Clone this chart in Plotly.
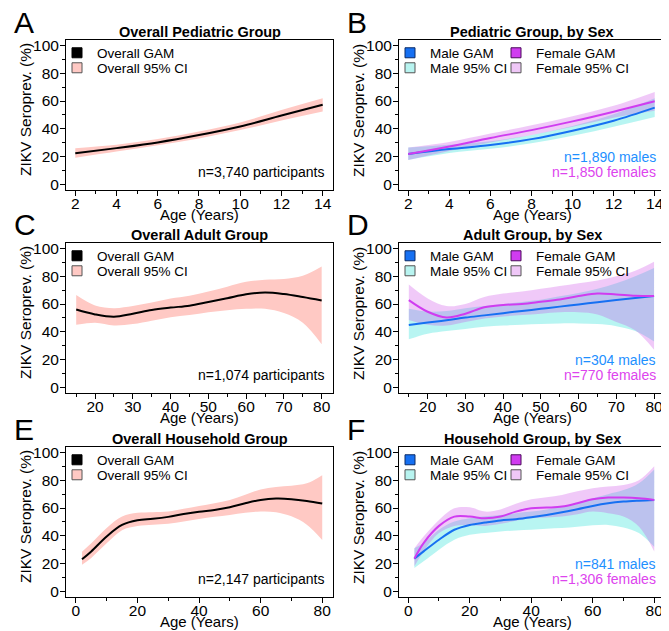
import plotly.graph_objects as go

PAGE_W, PAGE_H = 669, 631
BODY = 8  # default page margin of the HTML body; figure coordinates = page coordinates - BODY
W, H = PAGE_W - BODY, PAGE_H - BODY
FONT = "Liberation Sans, Arial, Helvetica, sans-serif"

# ---------------- data ----------------
# Panel A / B : pediatric group
ped_age = [2, 4, 6, 8, 10, 12, 14]
ped_gam = [22.3, 26.0, 30.1, 35.4, 41.6, 49.5, 57.3]
ped_lo = [19.0, 23.5, 28.0, 33.0, 39.0, 46.0, 52.5]
ped_hi = [26.0, 28.5, 32.5, 38.0, 44.5, 53.5, 62.0]

ped_m_gam = [21.8, 25.3, 28.2, 32.5, 38.6, 45.8, 55.2]
ped_m_lo = [17.5, 22.5, 25.5, 29.5, 35.0, 41.5, 48.5]
ped_m_hi = [26.5, 28.5, 31.0, 35.5, 42.0, 50.5, 62.0]
ped_f_gam = [21.7, 27.2, 33.3, 39.0, 45.3, 52.3, 59.8]
ped_f_lo = [17.5, 24.0, 30.0, 35.5, 41.5, 48.0, 53.0]
ped_f_hi = [26.5, 30.5, 36.5, 42.5, 49.0, 56.5, 66.5]

# Panel C / D : adult group
adult_age = [15, 20, 25, 30, 35, 40, 45, 50, 55, 60, 65, 70, 75, 80]
adult_gam = [56.0, 52.5, 50.8, 53.0, 55.7, 57.4, 58.8, 61.5, 64.2, 67.0, 68.3, 67.2, 65.0, 62.5]
adult_lo = [45.0, 46.5, 44.5, 45.5, 48.0, 50.5, 52.0, 54.0, 55.5, 56.5, 56.5, 53.5, 46.5, 31.0]
adult_hi = [66.5, 59.0, 57.0, 58.5, 61.0, 64.0, 66.0, 69.0, 72.5, 76.0, 77.5, 78.0, 80.3, 87.0]

adult_m_gam = [44.8, 46.6, 48.3, 50.2, 51.8, 53.4, 55.0, 56.5, 58.1, 59.7, 61.3, 62.9, 64.3, 65.7]
adult_m_lo = [34.5, 38.5, 40.5, 42.0, 43.5, 44.5, 45.0, 45.5, 46.0, 46.0, 45.5, 44.0, 40.5, 33.0]
adult_m_hi = [56.5, 54.5, 55.0, 57.0, 58.5, 60.0, 61.5, 63.0, 65.5, 68.0, 71.0, 75.0, 80.0, 86.0]
adult_f_gam = [62.8, 54.4, 50.3, 53.0, 57.6, 59.3, 60.0, 61.6, 63.3, 65.7, 67.6, 66.9, 65.9, 65.7]
adult_f_lo = [48.5, 45.0, 44.5, 47.0, 49.5, 51.0, 52.0, 53.0, 54.0, 54.0, 52.5, 47.0, 41.0, 27.0]
adult_f_hi = [74.0, 64.0, 58.5, 60.0, 65.0, 67.5, 69.0, 71.0, 73.0, 75.0, 77.0, 80.0, 84.0, 90.5]

# Panel E / F : household group
hh_age = [2, 5, 10, 15, 20, 25, 30, 35, 40, 45, 50, 55, 60, 65, 70, 75, 80]
hh_gam = [23.0, 28.7, 39.5, 47.8, 51.2, 52.2, 53.6, 55.6, 57.3, 58.6, 60.5, 63.4, 65.8, 66.8, 66.4, 65.1, 63.2]
hh_lo = [19.0, 24.0, 34.5, 44.0, 47.0, 48.0, 48.6, 50.2, 52.0, 53.6, 55.0, 56.5, 57.5, 57.0, 54.0, 48.0, 37.0]
hh_hi = [28.5, 34.5, 45.5, 53.8, 56.5, 57.0, 57.5, 59.5, 61.5, 63.5, 65.8, 69.5, 73.4, 75.2, 76.1, 77.8, 83.7]

hh_m_gam = [23.5, 28.7, 37.1, 44.3, 47.8, 49.5, 51.0, 51.9, 53.3, 55.0, 56.9, 59.1, 61.5, 63.4, 64.6, 65.3, 65.8]
hh_m_lo = [16.7, 21.5, 29.9, 37.1, 40.7, 42.0, 43.1, 43.8, 44.3, 45.0, 45.5, 46.5, 47.5, 47.8, 46.0, 42.0, 32.0]
hh_m_hi = [31.0, 34.7, 44.3, 50.2, 52.6, 54.0, 55.0, 56.2, 57.4, 59.0, 61.0, 63.8, 67.0, 70.0, 72.9, 77.8, 87.8]
hh_f_gam = [23.5, 34.7, 47.1, 53.8, 53.8, 52.6, 53.8, 57.4, 59.8, 60.3, 61.0, 63.4, 66.3, 67.5, 67.5, 67.0, 65.8]
hh_f_lo = [17.9, 28.7, 41.9, 47.1, 47.8, 47.1, 48.6, 50.8, 52.6, 53.2, 53.8, 55.5, 57.4, 56.2, 53.8, 46.6, 28.7]
hh_f_hi = [31.0, 39.5, 51.4, 59.8, 60.5, 57.4, 59.0, 63.0, 66.3, 67.8, 69.4, 72.0, 74.2, 75.5, 76.6, 80.1, 90.2]

panel_letters = ["A", "B", "C", "D", "E", "F"]
panel_titles = ["Overall Pediatric Group", "Pediatric Group, by Sex",
                "Overall Adult Group", "Adult Group, by Sex",
                "Overall Household Group", "Household Group, by Sex"]
x_title = "Age (Years)"
y_title = "ZIKV Seroprev. (%)"
n_overall = ["n=3,740 participants", "n=1,074 participants", "n=2,147 participants"]
n_males = ["n=1,890 males", "n=304 males", "n=841 males"]
n_females = ["n=1,850 females", "n=770 females", "n=1,306 females"]

# ---------------- styles ----------------
OV_LINE = "#000000"
OV_CI = "#FFC9C4"
M_LINE = "#1670F2"
F_LINE = "#D03CF0"
M_CI = "rgba(0,220,210,0.28)"
F_CI = "rgba(200,60,230,0.28)"
M_TXT = "#1E90FF"
F_TXT = "#DD44EE"
M_CI_KEY = "#B8F4F0"
F_CI_KEY = "#EFC7F7"

# plot boxes in page pixels
COLS = [(66, 333), (399, 665)]
ROWS = [(40, 190), (243, 393), (447, 597)]
XRANGES = [[1.55, 14.5], [1.55, 14.5], [12.3, 83.0], [12.4, 82.9], [-3.2, 83.5], [-3.0, 83.5]]
XTICK = [(2, 2, 1), (2, 2, 1), (20, 10, 5), (20, 10, 5), (0, 20, 10), (0, 20, 10)]
YRANGE = [-4.2, 104]


def fx(px):
    return (px - BODY) / W


def fy(py):
    return 1 - (py - BODY) / H


groups = [
    (ped_age, (ped_gam, ped_lo, ped_hi), (ped_m_gam, ped_m_lo, ped_m_hi), (ped_f_gam, ped_f_lo, ped_f_hi)),
    (adult_age, (adult_gam, adult_lo, adult_hi), (adult_m_gam, adult_m_lo, adult_m_hi), (adult_f_gam, adult_f_lo, adult_f_hi)),
    (hh_age, (hh_gam, hh_lo, hh_hi), (hh_m_gam, hh_m_lo, hh_m_hi), (hh_f_gam, hh_f_lo, hh_f_hi)),
]

fig = go.Figure()
layout = dict(
    width=W, height=H, margin=dict(l=0, r=0, t=0, b=0, autoexpand=False),
    plot_bgcolor="white", paper_bgcolor="white",
    font=dict(family=FONT, size=14, color="black"),
    hovermode=False,
)
annotations = []
legend_counter = [0]

LEG_OFF = 19  # px from legend left edge to symbol centre


def add_band(xa, ya, age, lo, hi, color):
    fig.add_trace(go.Scatter(x=age, y=hi, mode="lines", line=dict(width=0, shape="spline"),
                             xaxis=xa, yaxis=ya, showlegend=False, hoverinfo="skip"))
    fig.add_trace(go.Scatter(x=age, y=lo, mode="lines", line=dict(width=0, shape="spline"),
                             fill="tonexty", fillcolor=color,
                             xaxis=xa, yaxis=ya, showlegend=False, hoverinfo="skip"))


def add_line(xa, ya, age, y, color):
    fig.add_trace(go.Scatter(x=age, y=y, mode="lines", line=dict(width=2, color=color, shape="spline"),
                             xaxis=xa, yaxis=ya, showlegend=False, hoverinfo="skip"))


def add_key(xa, ya, name, fill, border, cx, cy):
    legend_counter[0] += 1
    k = legend_counter[0]
    lid = "legend" if k == 1 else f"legend{k}"
    fig.add_trace(go.Scatter(x=[None], y=[None], mode="markers", name=name,
                             marker=dict(symbol="square", size=10, color=fill,
                                         line=dict(color=border, width=1)),
                             xaxis=xa, yaxis=ya, legend=lid, showlegend=True))
    layout[lid] = dict(x=fx(cx - LEG_OFF), y=fy(cy), xanchor="left", yanchor="middle",
                       bgcolor="rgba(0,0,0,0)", borderwidth=0,
                       font=dict(family=FONT, size=13.5, color="black"),
                       itemclick=False, itemdoubleclick=False)


for i in range(6):
    r, c = divmod(i, 2)
    x0, x1 = COLS[c]
    y0, y1 = ROWS[r]
    n = i + 1
    xa = "x" if n == 1 else f"x{n}"
    ya = "y" if n == 1 else f"y{n}"
    xkey = "xaxis" if n == 1 else f"xaxis{n}"
    ykey = "yaxis" if n == 1 else f"yaxis{n}"
    t0, dt, mdt = XTICK[i]
    axis_common = dict(showline=True, mirror=True, linecolor="black", linewidth=1,
                       ticks="outside", ticklen=5, tickwidth=1, tickcolor="black",
                       showgrid=False, zeroline=False, fixedrange=True, automargin=False,
                       tickfont=dict(family=FONT, size=15.5, color="black"))
    layout[xkey] = dict(axis_common, domain=[fx(x0), fx(x1)], range=XRANGES[i], anchor=ya,
                        tick0=t0, dtick=dt, ticklabelstandoff=-6,
                        minor=dict(ticks="outside", ticklen=3, dtick=mdt, tick0=t0, tickcolor="black"))
    layout[ykey] = dict(axis_common, domain=[fy(y1), fy(y0)], range=YRANGE, anchor=xa,
                        tick0=0, dtick=20, ticklabelstandoff=-2,
                        minor=dict(ticks="outside", ticklen=3, dtick=10, tick0=0, tickcolor="black"))

    age, ov, male, female = groups[r]
    if c == 0:
        add_band(xa, ya, age, ov[1], ov[2], OV_CI)
        add_line(xa, ya, age, ov[0], OV_LINE)
        add_key(xa, ya, "Overall GAM", OV_LINE, "#000000", x0 + 10, y0 + 13)
        add_key(xa, ya, "Overall 95% CI", OV_CI, "#555555", x0 + 10, y0 + 28)
        annotations.append(dict(xref=f"{xa} domain", yref=f"{ya} domain", x=1, y=0,
                                xanchor="right", yanchor="middle", xshift=-7, yshift=18,
                                text=n_overall[r], showarrow=False,
                                font=dict(family=FONT, size=14, color="black")))
    else:
        add_band(xa, ya, age, male[1], male[2], M_CI)
        add_band(xa, ya, age, female[1], female[2], F_CI)
        add_line(xa, ya, age, male[0], M_LINE)
        add_line(xa, ya, age, female[0], F_LINE)
        add_key(xa, ya, "Male GAM", M_LINE, "#0A2A66", x0 + 10, y0 + 13)
        add_key(xa, ya, "Male 95% CI", M_CI_KEY, "#555555", x0 + 10, y0 + 28)
        add_key(xa, ya, "Female GAM", F_LINE, "#4A0A5A", x0 + 116, y0 + 13)
        add_key(xa, ya, "Female 95% CI", F_CI_KEY, "#555555", x0 + 116, y0 + 28)
        annotations.append(dict(xref=f"{xa} domain", yref=f"{ya} domain", x=1, y=0,
                                xanchor="right", yanchor="middle", xshift=-7, yshift=33,
                                text=n_males[r], showarrow=False,
                                font=dict(family=FONT, size=14, color=M_TXT)))
        annotations.append(dict(xref=f"{xa} domain", yref=f"{ya} domain", x=1, y=0,
                                xanchor="right", yanchor="middle", xshift=-7, yshift=18,
                                text=n_females[r], showarrow=False,
                                font=dict(family=FONT, size=14, color=F_TXT)))
    # axis titles
    annotations.append(dict(xref="paper", yref="paper", x=fx((x0 + x1) / 2), y=fy(y1 + 24.5),
                            xanchor="center", yanchor="middle", showarrow=False, text=x_title,
                            font=dict(family=FONT, size=15, color="black")))
    annotations.append(dict(xref="paper", yref="paper", x=fx(x0 - 41), y=fy((y0 + y1) / 2 - 5),
                            xanchor="center", yanchor="middle", showarrow=False, text=y_title,
                            textangle=-90, font=dict(family=FONT, size=15.5, color="black")))
    # panel title
    annotations.append(dict(xref="paper", yref="paper", x=fx((x0 + x1) / 2), y=fy(y0 - 8),
                            xanchor="center", yanchor="middle", showarrow=False,
                            text=f"<b>{panel_titles[i]}</b>",
                            font=dict(family=FONT, size=14.5, color="black")))
    # panel letter
    annotations.append(dict(xref="paper", yref="paper", x=fx(x0 - 54), y=fy(y0 - 18),
                            xanchor="left", yanchor="middle", showarrow=False,
                            text=panel_letters[i],
                            font=dict(family=FONT, size=30, color="black")))

layout["annotations"] = annotations
fig.update_layout(**layout)
fig.write_html("out.html")
